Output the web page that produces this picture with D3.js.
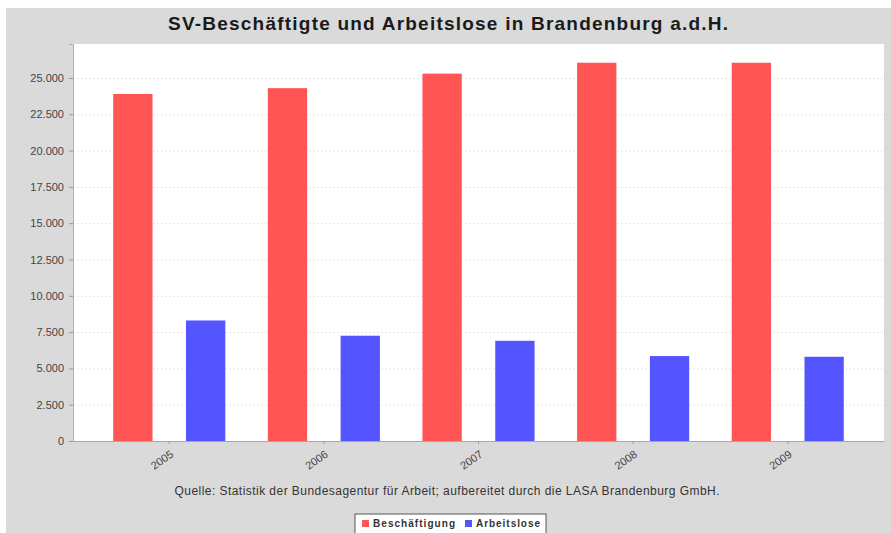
<!DOCTYPE html>
<html>
<head>
<meta charset="utf-8">
<script src="https://cdn.jsdelivr.net/npm/d3@7"></script>
<style>
  body { margin: 0; background: #fff; }
  svg { display: block; font-family: "Liberation Sans", Arial, sans-serif; }
</style>
</head>
<body>
<div id="chart"></div>
<script>
// chart values
var years = ["2005", "2006", "2007", "2008", "2009"];
var seriesNames = ["Beschäftigung", "Arbeitslose"];
var beschaeftigung = [23900, 24300, 25300, 26050, 26050];
var arbeitslose = [8300, 7250, 6900, 5850, 5800];
var yTicks = [0, 2500, 5000, 7500, 10000, 12500, 15000, 17500, 20000, 22500, 25000];
var colors = ["#ff5555", "#5555ff"];

function drawChart() {
  const W = 891, H = 533;
  const plot = { left: 73, right: 884, top: 44, bottom: 441 };

  const svg = d3.select("#chart").append("svg")
    .attr("width", W)
    .attr("height", H);

  // grey chart background with white strip on the left/top
  svg.append("rect")
    .attr("x", 6).attr("y", 8)
    .attr("width", W - 6).attr("height", H - 8)
    .attr("fill", "#dadada");

  svg.append("rect")
    .attr("x", plot.left).attr("y", plot.top)
    .attr("width", plot.right - plot.left)
    .attr("height", plot.bottom - plot.top)
    .attr("fill", "#ffffff");

  const yScale = d3.scaleLinear()
    .domain([0, 27340])
    .range([plot.bottom, plot.top]);

  const xScale = d3.scaleBand()
    .domain(years)
    .range([plot.left, plot.right])
    .paddingInner(0.275)
    .paddingOuter(0.26);

  const xInner = d3.scaleBand()
    .domain(seriesNames)
    .range([0, xScale.bandwidth()])
    .paddingInner(0.46);

  // grid
  svg.append("g")
    .attr("class", "grid")
    .attr("transform", "translate(" + plot.left + ",0)")
    .call(d3.axisLeft(yScale)
      .tickValues(yTicks)
      .tickSize(-(plot.right - plot.left))
      .tickFormat(""))
    .call(g => g.select(".domain").remove())
    .call(g => g.selectAll("line")
      .attr("stroke", "#e6e6e6")
      .attr("stroke-dasharray", "2,2"));

  // y axis
  const fmt = d => d3.format(",")(d).replace(/,/g, ".");
  svg.append("g")
    .attr("transform", "translate(" + plot.left + ",0)")
    .call(d3.axisLeft(yScale).tickValues(yTicks).tickSize(4).tickPadding(5).tickFormat(fmt))
    .call(g => g.select(".domain").attr("stroke", "#b0b0b0"))
    .call(g => g.selectAll("line").attr("stroke", "#999"))
    .call(g => g.selectAll("text")
      .attr("fill", "#444")
      .style("font-size", "11px"));

  // bars
  const rows = years.map((y, i) => ({
    year: y,
    values: [beschaeftigung[i], arbeitslose[i]]
  }));

  const groups = svg.selectAll(".year")
    .data(rows)
    .enter()
    .append("g")
    .attr("transform", d => "translate(" + xScale(d.year) + ",0)");

  groups.selectAll("rect")
    .data(d => d.values.map((v, j) => ({ name: seriesNames[j], value: v, j: j })))
    .enter()
    .append("rect")
    .attr("x", d => xInner(d.name))
    .attr("y", d => yScale(d.value))
    .attr("width", xInner.bandwidth())
    .attr("height", d => plot.bottom - yScale(d.value))
    .attr("fill", d => colors[d.j]);

  // x axis
  svg.append("g")
    .attr("transform", "translate(0," + plot.bottom + ")")
    .call(d3.axisBottom(xScale).tickSize(3).tickSizeOuter(0))
    .call(g => g.select(".domain").attr("stroke", "#a8a8a8"))
    .call(g => g.selectAll("line").attr("stroke", "#999"))
    .call(g => g.selectAll("text")
      .attr("fill", "#444")
      .style("font-size", "11px")
      .attr("text-anchor", "end")
      .attr("dy", null)
      .attr("y", 0)
      .attr("transform", "translate(5,15) rotate(-35)"));

  // title
  svg.append("text")
    .attr("x", 448)
    .attr("y", 30)
    .attr("text-anchor", "middle")
    .style("font-size", "19px")
    .style("font-weight", "bold")
    .attr("fill", "#1a1a1a")
    .attr("textLength", 560)
    .text("SV-Beschäftigte und Arbeitslose in Brandenburg a.d.H.");

  // source
  svg.append("text")
    .attr("x", 447)
    .attr("y", 495)
    .attr("text-anchor", "middle")
    .style("font-size", "12px")
    .attr("fill", "#333")
    .attr("textLength", 545)
    .text("Quelle: Statistik der Bundesagentur für Arbeit; aufbereitet durch die LASA Brandenburg GmbH.");

  // legend
  const legend = svg.append("g").attr("transform", "translate(355,514)");
  legend.append("rect")
    .attr("width", 191).attr("height", 22)
    .attr("fill", "#fff")
    .attr("stroke", "#555");
  const legendX = [7, 110];
  const legendLen = [82, 64];
  seriesNames.forEach((name, i) => {
    legend.append("rect")
      .attr("x", legendX[i]).attr("y", 6)
      .attr("width", 7).attr("height", 7)
      .attr("fill", colors[i]);
    legend.append("text")
      .attr("x", legendX[i] + 11).attr("y", 13)
      .style("font-size", "10px")
      .style("font-weight", "bold")
      .attr("fill", "#333")
      .attr("textLength", legendLen[i])
      .text(name);
  });
}

drawChart();
</script>
</body>
</html>
